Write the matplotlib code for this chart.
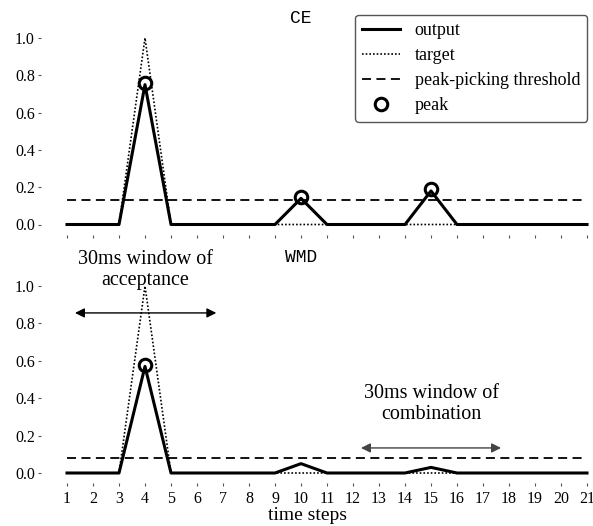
import matplotlib
matplotlib.use("Agg")
import matplotlib.pyplot as plt
import numpy as np

steps = list(range(1, 22))
target = [0, 0, 0, 1.0, 0, 0, 0, 0, 0, 0, 0, 0, 0, 0, 0, 0, 0, 0, 0, 0, 0]
ce_output = [0, 0, 0, 0.75, 0, 0, 0, 0, 0, 0.14, 0, 0, 0, 0, 0.18, 0, 0, 0, 0, 0, 0]
ce_threshold = 0.13
ce_peaks_x = [4, 10, 15]
wmd_output = [0, 0, 0, 0.57, 0, 0, 0, 0, 0, 0.05, 0, 0, 0, 0, 0.03, 0, 0, 0, 0, 0, 0]
wmd_threshold = 0.08
wmd_peaks_x = [4]
yticks = [0.0, 0.2, 0.4, 0.6, 0.8, 1.0]

serif = ["Liberation Serif", "DejaVu Serif"]
mono = ["Liberation Mono", "DejaVu Sans Mono"]

fig = plt.figure(figsize=(5.93, 5.26), dpi=100)
W, H = 593, 526

def make_ax(px_zero, px_one):
    xl, xr = 0.0, 21.1
    ppx = 26.0
    left = 67 - (1 - xl) * ppx
    right = 67 + (xr - 1) * ppx
    ppy = px_zero - px_one
    yb, yt = -0.055, 1.05
    bottom = px_zero + (-yb) * ppy
    top = px_one - (yt - 1) * ppy
    ax = fig.add_axes([left / W, 1 - bottom / H, (right - left) / W, (bottom - top) / H])
    ax.set_xlim(xl, xr)
    ax.set_ylim(yb, yt)
    for s in ax.spines.values():
        s.set_visible(False)
    ax.set_xticks(steps)
    ax.set_yticks(yticks)
    ax.set_yticklabels([f"{v:.1f}" for v in yticks], fontfamily=serif, fontsize=11.5)
    ax.tick_params(axis="both", length=2.5, width=0.8, color="#555555", pad=2)
    return ax

def draw(ax, output, threshold, peaks_x, title, title_y):
    ax.plot(steps, output, color="black", lw=2.2, label="output", zorder=3)
    ax.plot(steps, target, color="black", lw=1.2, ls=(0, (1, 1.2)), label="target", zorder=2)
    ax.plot([steps[0], steps[-1]], [threshold, threshold], color="black", lw=1.3,
            ls=(0, (5, 3)), label="peak-picking threshold", zorder=2)
    py = [output[s - 1] + 0.01 for s in peaks_x]
    ax.plot(peaks_x, py, ls="none", marker="o", ms=9, mfc="none", mec="black", mew=2.2,
            label="peak", zorder=4)
    ax.text(10, title_y, title, ha="center", va="center",
            fontfamily=mono, fontsize=13)

ax1 = make_ax(224.5, 38)
draw(ax1, ce_output, ce_threshold, ce_peaks_x, "CE", 1.105)
ax1.set_xticklabels([])

leg = ax1.legend(loc="upper right", bbox_to_anchor=(0.999, 1.076), prop={"family": serif, "size": 13},
                 frameon=True, fancybox=True, edgecolor="#555555", framealpha=1,
                 handlelength=2.1, labelspacing=0.45, borderpad=0.4, handletextpad=0.8,
                 borderaxespad=0.1)

ax2 = make_ax(473, 286)
draw(ax2, wmd_output, wmd_threshold, wmd_peaks_x, "WMD", 1.155)
ax2.set_xticklabels([str(s) for s in steps], fontfamily=serif, fontsize=11.5)
ax2.tick_params(axis="x", pad=3)
fig.text(308 / W, 1 - 516 / H, "time steps", ha="center", va="center",
         fontfamily=serif, fontsize=14)

ax2.annotate("", xy=(1.2, 0.856), xytext=(6.85, 0.856),
             arrowprops=dict(arrowstyle="<|-|>", color="black", lw=1.0, mutation_scale=14),
             annotation_clip=False)
ax2.text(4.0, 1.085, "30ms window of\nacceptance", ha="center", va="center",
         fontfamily=serif, fontsize=14.5, linespacing=1.1)

ax2.annotate("", xy=(12.2, 0.134), xytext=(17.8, 0.134),
             arrowprops=dict(arrowstyle="<|-|>", color="#444444", lw=1.0, mutation_scale=14),
             annotation_clip=False)
ax2.text(15.0, 0.37, "30ms window of\ncombination", ha="center", va="center",
         fontfamily=serif, fontsize=14.5, linespacing=1.1)

fig.savefig("out.png", dpi=100)
